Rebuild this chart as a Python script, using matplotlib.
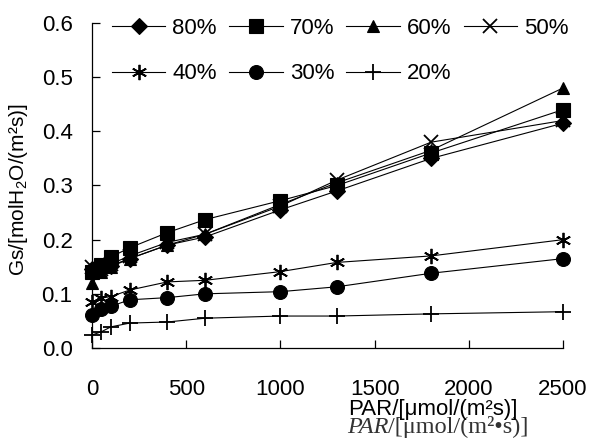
import matplotlib
matplotlib.use("Agg")
import matplotlib.pyplot as plt

plt.rcParams['font.family'] = ['Liberation Sans', 'DejaVu Sans']
plt.rcParams['mathtext.fontset'] = 'custom'
plt.rcParams['mathtext.rm'] = 'Liberation Sans'
plt.rcParams['mathtext.it'] = 'Liberation Sans:italic'

par = [0, 50, 100, 200, 400, 600, 1000, 1300, 1800, 2500]
gs_80 = [0.145, 0.148, 0.152, 0.165, 0.190, 0.205, 0.255, 0.290, 0.350, 0.415]
gs_70 = [0.140, 0.153, 0.168, 0.185, 0.213, 0.237, 0.272, 0.300, 0.360, 0.440]
gs_60 = [0.120, 0.140, 0.150, 0.165, 0.190, 0.210, 0.265, 0.305, 0.365, 0.480]
gs_50 = [0.150, 0.145, 0.155, 0.170, 0.195, 0.210, 0.262, 0.310, 0.380, 0.420]
gs_40 = [0.085, 0.092, 0.095, 0.107, 0.122, 0.125, 0.141, 0.158, 0.170, 0.200]
gs_30 = [0.061, 0.072, 0.077, 0.089, 0.093, 0.100, 0.104, 0.113, 0.138, 0.165]
gs_20 = [0.024, 0.030, 0.039, 0.046, 0.048, 0.055, 0.059, 0.059, 0.063, 0.067]

labels = ['80%', '70%', '60%', '50%', '40%', '30%', '20%']
series = [gs_80, gs_70, gs_60, gs_50, gs_40, gs_30, gs_20]
markers = ['D', 's', '^', 'x', (6, 2, 0), 'o', '+']
msizes = [8, 10, 9, 10, 11, 10, 12]

xticks = [0, 500, 1000, 1500, 2000, 2500]
yticks = [0.0, 0.1, 0.2, 0.3, 0.4, 0.5, 0.6]

FS = 16
W, H = 591, 438
fig = plt.figure(figsize=(W / 100, H / 100), dpi=100)
ax = fig.add_axes([92 / W, 1 - 348 / H, (563 - 92) / W, (348 - 23) / H])

handles = []
for ys, lab, mk, ms in zip(series, labels, markers, msizes):
    thin = mk in ('x', '+') or isinstance(mk, tuple)
    h, = ax.plot(par, ys, color='black', lw=0.8, marker=mk, markersize=ms,
                 markeredgewidth=1.3 if thin else 0.8,
                 markerfacecolor='black', markeredgecolor='black', label=lab, clip_on=False)
    handles.append(h)

ax.set_xlim(0, 2500)
ax.set_ylim(0, 0.6)
ax.set_xticks(xticks)
ax.set_yticks(yticks)
ax.set_yticklabels([f"{v:.1f}" for v in yticks])
for s in ['top', 'right']:
    ax.spines[s].set_visible(False)
for s in ['left', 'bottom']:
    ax.spines[s].set_linewidth(0.9)
ax.tick_params(direction='in', length=6, width=0.9, labelsize=FS)
ax.tick_params(axis='x', pad=22)
ax.tick_params(axis='y', pad=14)

order = [0, 4, 1, 5, 2, 6, 3]
leg = ax.legend([handles[i] for i in order], [labels[i] for i in order],
                ncol=4, frameon=False, fontsize=FS, loc='upper left',
                bbox_to_anchor=(112 / W, 1 - 18 / H), bbox_transform=fig.transFigure,
                borderpad=0, handlelength=2.4, handletextpad=0.32,
                columnspacing=0.55, labelspacing=1.1, borderaxespad=0)

fig.text(433 / W, 1 - 410 / H, 'PAR/[μmol/(m²s)]', ha='center', va='center', fontsize=FS)
serif = ['Liberation Serif', 'DejaVu Serif']
t1 = fig.text(347 / W, 1 - 438 / H, 'PAR', ha='left', va='bottom', fontsize=17.5,
              style='italic', color='#333333', family=serif)
ax.annotate('/[μmol/(m²•s)]', xy=(1, 0), xycoords=t1, ha='left', va='bottom',
            fontsize=17.5, color='#333333', family=serif, annotation_clip=False)
fig.text(19 / W, 1 - 190 / H, r'Gs/[molH$_2$O/(m²s)]', ha='center', va='center',
         rotation=90, fontsize=15)

fig.savefig('out.png', dpi=100)
